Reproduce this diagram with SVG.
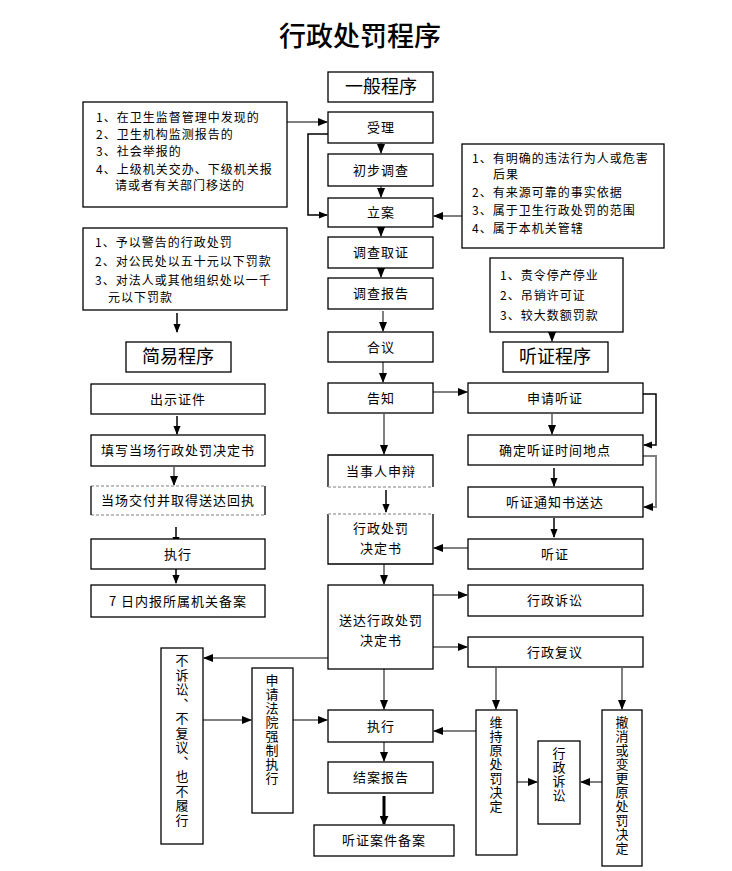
<svg xmlns="http://www.w3.org/2000/svg" width="732" height="871" viewBox="0 0 732 871">
<defs>
<style>
text{font-family:"Noto Sans CJK SC","Liberation Sans",sans-serif;fill:#000;}
.b{fill:#fff;stroke:#000;stroke-width:1.3;}
.f{fill:#fff;stroke:none;}
.s{stroke:#000;stroke-width:1.3;fill:none;}
.t{font-size:13px;text-anchor:middle;letter-spacing:1px;}
.h{font-size:18px;text-anchor:middle;}
.l{font-size:12px;letter-spacing:1px;}
.v{font-size:13px;writing-mode:vertical-rl;letter-spacing:1px;}
.g{stroke:#808080;stroke-width:2;fill:none;}
.k{stroke:#000;stroke-width:1.5;fill:none;}
.kk{stroke:#000;stroke-width:3;fill:none;}
.d{stroke:#aaa;stroke-width:1.3;stroke-dasharray:3 2;}
</style>
<marker id="a" viewBox="0 0 10 10" refX="9" refY="5" markerWidth="5" markerHeight="5" orient="auto" markerUnits="strokeWidth"><path d="M0,1 L10,5 L0,9 z" fill="#000"/></marker>
<marker id="ak" viewBox="0 0 10 10" refX="9" refY="5" markerWidth="6" markerHeight="6" orient="auto" markerUnits="strokeWidth"><path d="M0,1 L10,5 L0,9 z" fill="#000"/></marker>
<marker id="ak3" viewBox="0 0 10 10" refX="9" refY="5" markerWidth="3" markerHeight="3" orient="auto" markerUnits="strokeWidth"><path d="M0,0 L10,5 L0,10 z" fill="#000"/></marker>
</defs>

<text x="360" y="46" style="font-size:27px;font-weight:500;text-anchor:middle;">行政处罚程序</text>

<g id="connectors">
<path class="g" d="M287,122 H327" marker-end="url(#a)"/>
<path class="k" d="M328,134 H308 V215 H327" marker-end="url(#ak)"/>
<path class="g" d="M462,216 H434" marker-end="url(#a)"/>
<path class="g" d="M381,143 V153" marker-end="url(#a)"/>
<path class="g" d="M381,186 V197" marker-end="url(#a)"/>
<path class="g" d="M381,227 V236" marker-end="url(#a)"/>
<path class="g" d="M381,268 V277" marker-end="url(#a)"/>
<path class="g" d="M383,311 V331" marker-end="url(#a)"/>
<path class="g" d="M383,362 V382" marker-end="url(#a)"/>
<path class="g" d="M384,414 V454" marker-end="url(#a)"/>
<path class="k" d="M386,490 V512" marker-end="url(#ak)"/>
<path class="g" d="M384,564 V584" marker-end="url(#a)"/>
<path class="g" d="M384,669 V709" marker-end="url(#a)"/>
<path class="g" d="M384,742 V761" marker-end="url(#a)"/>
<path class="kk" d="M384,796 V824" marker-end="url(#ak3)"/>
<path class="g" d="M552,332 V341" marker-end="url(#a)"/>
<path class="g" d="M433,392 H467" marker-end="url(#a)"/>
<path class="g" d="M552,414 V434" marker-end="url(#a)"/>
<path class="k" d="M643,394 H656 V445 H644" marker-end="url(#ak)"/>
<path class="g" d="M643,456 H656 V507 H644" marker-end="url(#a)"/>
<path class="k" d="M554,468 V486" marker-end="url(#ak)"/>
<path class="k" d="M554,518 V537" marker-end="url(#ak)"/>
<path class="g" d="M468,548 H434" marker-end="url(#a)"/>
<path class="k" d="M177,313 V332" marker-end="url(#ak)"/>
<path class="k" d="M177,416 V434" marker-end="url(#ak)"/>
<path class="g" d="M174,467 V485" marker-end="url(#a)"/>
<path class="k" d="M176,527 V545" marker-end="url(#ak)"/>
<path class="k" d="M176,565 V583" marker-end="url(#ak)"/>
<path class="g" d="M328,658 H204" marker-end="url(#a)"/>
<path class="g" d="M203,720 H251" marker-end="url(#a)"/>
<path class="g" d="M293,720 H327" marker-end="url(#a)"/>
<path class="g" d="M433,595 H467" marker-end="url(#a)"/>
<path class="g" d="M433,647 H467" marker-end="url(#a)"/>
<path class="g" d="M496,668 V709" marker-end="url(#a)"/>
<path class="g" d="M622,668 V709" marker-end="url(#a)"/>
<path class="g" d="M476,731 H434" marker-end="url(#a)"/>
<path class="g" d="M517,782 H537" marker-end="url(#a)"/>
<path class="g" d="M602,782 H581" marker-end="url(#a)"/>
</g>

<g id="n-general"><rect class="b" x="328" y="72" width="105" height="30"/><text class="h" x="381" y="93">一般程序</text></g>
<g id="n-sources"><rect class="b" x="83" y="102" width="204" height="105"/>
<text class="l" x="96" y="122">1、在卫生监督管理中发现的</text>
<text class="l" x="96" y="139">2、卫生机构监测报告的</text>
<text class="l" x="96" y="156">3、社会举报的</text>
<text class="l" x="96" y="174">4、上级机关交办、下级机关报</text>
<text class="l" x="115" y="190">请或者有关部门移送的</text></g>
<g id="n-shouli"><rect class="b" x="328" y="112" width="105" height="31"/><text class="t" x="381" y="132">受理</text></g>
<g id="n-chubu"><rect class="b" x="328" y="154" width="105" height="32"/><text class="t" x="381" y="175">初步调查</text></g>
<g id="n-lian"><rect class="b" x="328" y="198" width="105" height="29"/><text class="t" x="381" y="217">立案</text></g>
<g id="n-cond"><rect class="b" x="462" y="144" width="202" height="104"/>
<text class="l" x="472" y="163">1、有明确的违法行为人或危害</text>
<text class="l" x="493" y="179">后果</text>
<text class="l" x="472" y="197">2、有来源可靠的事实依据</text>
<text class="l" x="472" y="215">3、属于卫生行政处罚的范围</text>
<text class="l" x="472" y="233">4、属于本机关管辖</text></g>
<g id="n-quzheng"><rect class="b" x="328" y="237" width="105" height="31"/><text class="t" x="381" y="257">调查取证</text></g>
<g id="n-baogao"><rect class="b" x="328" y="278" width="105" height="31"/><text class="t" x="381" y="298">调查报告</text></g>
<g id="n-heyi"><rect class="b" x="328" y="332" width="105" height="30"/><text class="t" x="381" y="352">合议</text></g>
<g id="n-gaozhi"><rect class="b" x="328" y="383" width="105" height="30"/><text class="t" x="381" y="403">告知</text></g>
<g id="n-shenbian"><rect class="f" x="328" y="455" width="105" height="32"/><path class="s" d="M328,487 V455 H433 V487"/><line class="d" x1="328" y1="487" x2="433" y2="487"/><text class="t" x="381" y="476">当事人申辩</text></g>
<g id="n-jueding"><rect class="f" x="328" y="514" width="105" height="50"/><path class="s" d="M328,514 V564 H433 V514"/><line class="d" x1="328" y1="514" x2="433" y2="514"/><text class="t" x="381" y="533">行政处罚</text><text class="t" x="381" y="553">决定书</text></g>
<g id="n-songda"><rect class="b" x="328" y="585" width="105" height="84"/><text class="t" x="381" y="625">送达行政处罚</text><text class="t" x="381" y="645">决定书</text></g>
<g id="n-zhixing"><rect class="b" x="328" y="710" width="105" height="32"/><text class="t" x="381" y="731">执行</text></g>
<g id="n-jiean"><rect class="b" x="328" y="762" width="105" height="31"/><text class="t" x="381" y="782">结案报告</text></g>
<g id="n-beian"><rect class="b" x="314" y="825" width="140" height="31"/><text class="t" x="384" y="845">听证案件备案</text></g>

<g id="n-hcond"><rect class="b" x="490" y="258" width="133" height="74"/>
<text class="l" x="500" y="280">1、责令停产停业</text>
<text class="l" x="500" y="300">2、吊销许可证</text>
<text class="l" x="500" y="320">3、较大数额罚款</text></g>
<g id="n-tingzheng"><rect class="b" x="503" y="342" width="105" height="30"/><text class="h" x="555" y="363">听证程序</text></g>
<g id="n-shenqing"><rect class="b" x="468" y="383" width="175" height="30"/><text class="t" x="555" y="403">申请听证</text></g>
<g id="n-queding"><rect class="b" x="468" y="435" width="175" height="30"/><text class="t" x="555" y="455">确定听证时间地点</text></g>
<g id="n-tongzhi"><rect class="b" x="468" y="487" width="175" height="30"/><text class="t" x="555" y="507">听证通知书送达</text></g>
<g id="n-ting"><rect class="b" x="468" y="539" width="175" height="30"/><text class="t" x="555" y="559">听证</text></g>

<g id="n-scond"><rect class="b" x="83" y="228" width="204" height="82"/>
<text class="l" x="95" y="247">1、予以警告的行政处罚</text>
<text class="l" x="95" y="266">2、对公民处以五十元以下罚款</text>
<text class="l" x="95" y="285">3、对法人或其他组织处以一千</text>
<text class="l" x="108" y="302">元以下罚款</text></g>
<g id="n-jianyi"><rect class="b" x="126" y="342" width="105" height="30"/><text class="h" x="178" y="363">简易程序</text></g>
<g id="n-chushi"><rect class="b" x="91" y="384" width="174" height="30"/><text class="t" x="178" y="404">出示证件</text></g>
<g id="n-tianxie"><rect class="b" x="91" y="435" width="174" height="31"/><text class="t" x="178" y="455">填写当场行政处罚决定书</text></g>
<g id="n-jiaofu"><rect class="f" x="91" y="486" width="174" height="29"/><line class="d" x1="91" y1="486" x2="265" y2="486"/><line class="d" x1="91" y1="515" x2="265" y2="515"/><line class="s" x1="91" y1="486" x2="91" y2="515"/><line class="s" x1="265" y1="486" x2="265" y2="515"/><text class="t" x="178" y="505">当场交付并取得送达回执</text></g>
<g id="n-szhixing"><rect class="b" x="91" y="539" width="174" height="30"/><text class="t" x="178" y="559">执行</text></g>
<g id="n-sbeian"><rect class="b" x="91" y="585" width="174" height="32"/><text class="t" x="178" y="606">7 日内报所属机关备案</text></g>

<g id="n-bususong"><rect class="b" x="161" y="648" width="42" height="196"/><text class="v" x="182" y="654" style="letter-spacing:1.5px">不诉讼、不复议、也不履行</text></g>
<g id="n-qiangzhi"><rect class="b" x="252" y="668" width="41" height="145"/><text class="v" x="272" y="674">申请法院强制执行</text></g>
<g id="n-susong"><rect class="b" x="468" y="585" width="175" height="31"/><text class="t" x="555" y="605">行政诉讼</text></g>
<g id="n-fuyi"><rect class="b" x="468" y="637" width="175" height="30"/><text class="t" x="555" y="657">行政复议</text></g>
<g id="n-weichi"><rect class="b" x="476" y="710" width="41" height="145"/><text class="v" x="496" y="716">维持原处罚决定</text></g>
<g id="n-susong2"><rect class="b" x="538" y="741" width="42" height="83"/><text class="v" x="559" y="747">行政诉讼</text></g>
<g id="n-chexiao"><rect class="b" x="602" y="710" width="40" height="156"/><text class="v" x="622" y="716">撤消或变更原处罚决定</text></g>
</svg>
